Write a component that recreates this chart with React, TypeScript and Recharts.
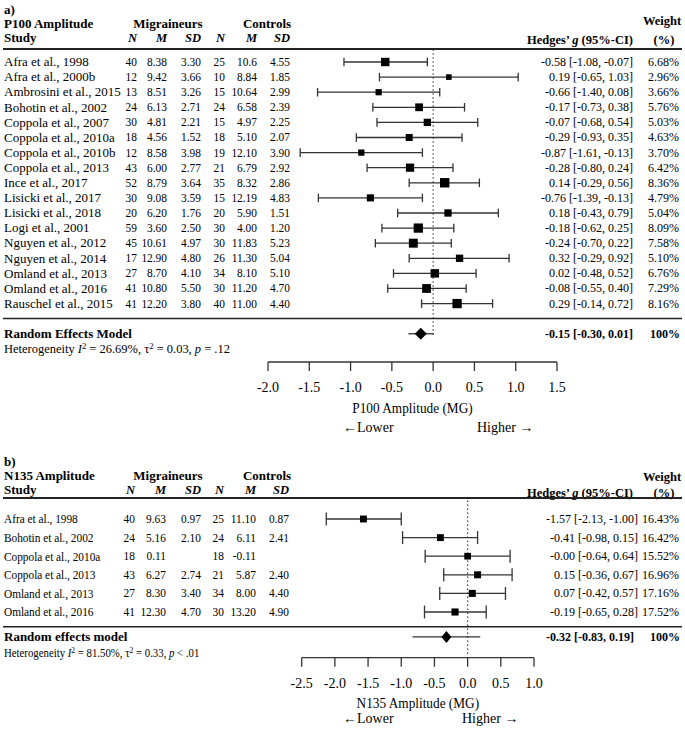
import React from 'react';
import { ComposedChart, Scatter, XAxis, YAxis, ErrorBar, ReferenceLine, Label } from 'recharts';

const SERIF = '"Liberation Serif", "Times New Roman", Times, serif';

// ---- a) P100 amplitude
const studiesA = [
  'Afra et al., 1998', 'Afra et al., 2000b', 'Ambrosini et al., 2015', 'Bohotin et al., 2002',
  'Coppola et al., 2007', 'Coppola et al., 2010a', 'Coppola et al., 2010b', 'Coppola et al., 2013',
  'Ince et al., 2017', 'Lisicki et al., 2017', 'Lisicki et al., 2018', 'Logi et al., 2001',
  'Nguyen et al., 2012', 'Nguyen et al., 2014', 'Omland et al., 2013', 'Omland et al., 2016',
  'Rauschel et al., 2015',
];
const migNA = ['40', '12', '13', '24', '30', '18', '12', '43', '52', '30', '20', '59', '45', '17', '27', '41', '41'];
const migMA = ['8.38', '9.42', '8.51', '6.13', '4.81', '4.56', '8.58', '6.00', '8.79', '9.08', '6.20', '3.60', '10.61', '12.90', '8.70', '10.80', '12.20'];
const migSDA = ['3.30', '3.66', '3.26', '2.71', '2.21', '1.52', '3.98', '2.77', '3.64', '3.59', '1.76', '2.50', '4.97', '4.80', '4.10', '5.50', '3.80'];
const conNA = ['25', '10', '15', '24', '15', '18', '19', '21', '35', '15', '20', '30', '30', '26', '34', '30', '40'];
const conMA = ['10.6', '8.84', '10.64', '6.58', '4.97', '5.10', '12.10', '6.79', '8.32', '12.19', '5.90', '4.00', '11.83', '11.30', '8.10', '11.20', '11.00'];
const conSDA = ['4.55', '1.85', '2.99', '2.39', '2.25', '2.07', '3.90', '2.92', '2.86', '4.83', '1.51', '1.20', '5.23', '5.04', '5.10', '4.70', '4.40'];
const gA = [-0.58, 0.19, -0.66, -0.17, -0.07, -0.29, -0.87, -0.28, 0.14, -0.76, 0.18, -0.18, -0.24, 0.32, 0.02, -0.08, 0.29];
const loA = [-1.08, -0.65, -1.40, -0.73, -0.68, -0.93, -1.61, -0.80, -0.29, -1.39, -0.43, -0.62, -0.70, -0.29, -0.48, -0.55, -0.14];
const hiA = [-0.07, 1.03, 0.08, 0.38, 0.54, 0.35, -0.13, 0.24, 0.56, -0.13, 0.79, 0.25, 0.22, 0.92, 0.52, 0.40, 0.72];
const weightA = [6.68, 2.96, 3.66, 5.76, 5.03, 4.63, 3.70, 6.42, 8.36, 4.79, 5.04, 8.09, 7.58, 5.10, 6.76, 7.29, 8.16];
const pooledA = [-0.15, -0.30, 0.01];
const hetA = ['26.69%', '0.03', '= .12'];
const xTicksA = [-2, -1.5, -1, -0.5, 0, 0.5, 1, 1.5];

// ---- b) N135 amplitude
const studiesB = [
  'Afra et al., 1998', 'Bohotin et al., 2002', 'Coppola et al., 2010a',
  'Coppola et al., 2013', 'Omland et al., 2013', 'Omland et al., 2016',
];
const migNB = ['40', '24', '18', '43', '27', '41'];
const migMB = ['9.63', '5.16', '0.11', '6.27', '8.30', '12.30'];
const migSDB = ['0.97', '2.10', '', '2.74', '3.40', '4.70'];
const conNB = ['25', '24', '18', '21', '34', '30'];
const conMB = ['11.10', '6.11', '-0.11', '5.87', '8.00', '13.20'];
const conSDB = ['0.87', '2.41', '', '2.40', '4.40', '4.90'];
const gB = [-1.57, -0.41, -0, 0.15, 0.07, -0.19];
const loB = [-2.13, -0.98, -0.64, -0.36, -0.42, -0.65];
const hiB = [-1.00, 0.15, 0.64, 0.67, 0.57, 0.28];
const weightB = [16.43, 16.42, 15.52, 16.96, 17.16, 17.52];
const pooledB = [-0.32, -0.83, 0.19];
const hetB = ['81.50%', '0.33', '< .01'];
const xTicksB = [-2.5, -2, -1.5, -1, -0.5, 0, 0.5, 1];

const fmt = (v: number) => (v < 0 || Object.is(v, -0) ? '-' : '') + Math.abs(v).toFixed(2);
const ci = (g: number, lo: number, hi: number) => `${fmt(g)} [${fmt(lo)}, ${fmt(hi)}]`;

function T({ x, y, anchor = 'start', bold = false, italic = false, size = 13, sx = 1, children }: any) {
  return (
    <text
      transform={`translate(${x},${y}) scale(${sx},1)`}
      textAnchor={anchor}
      dy="0.33em"
      fontFamily={SERIF}
      fontSize={size}
      fontWeight={bold ? 'bold' : 'normal'}
      fontStyle={italic ? 'italic' : 'normal'}
      fill="#000"
    >
      {children}
    </text>
  );
}

const panelA = {
  tag: 'a)', name: 'P100 Amplitude', pooledLabel: 'Random Effects Model', axisName: 'P100 Amplitude (MG)',
  studies: studiesA, cols: [migNA, migMA, migSDA, conNA, conMA, conSDA],
  g: gA, lo: loA, hi: hiA, w: weightA, pooled: pooledA, het: hetA, xTicks: xTicksA,
  // layout
  height: 440, top: 46.9, left: 268, right: 128, axisY: 362,
  xDomain: [-2, 1.5], yDomain: [-1, 19.87], sumRow: 18, hetRow: 19, dot: [-0.85, 18.2],
  colX: [137, 167, 201, 225, 257, 290], ciX: 633, sumCiX: 633, nameSx: 1, hetSx: 0.96,
  cap: 4.3, boxK: 3.25, dHalfW: 6, dHalfH: 6,
  tagY: 10, titleY: 24, studyY: 38, weightY: 21, hedgesY: 40, headLine: 49, sepLine: 318.5,
  axisTitleDy: 46, arrowsDy: 65, lowerX: 343, higherX: 477,
};

const panelB = {
  tag: 'b)', name: 'N135 Amplitude', pooledLabel: 'Random effects model', axisName: 'N135 Amplitude (MG)',
  studies: studiesB, cols: [migNB, migMB, migSDB, conNB, conMB, conSDB],
  g: gB, lo: loB, hi: hiB, w: weightB, pooled: pooledB, het: hetB, xTicks: xTicksB,
  height: 291, top: 60.4, left: 301.7, right: 151, axisY: 217.7,
  xDomain: [-2.5, 1], yDomain: [-1, 7.457], sumRow: 6.34, hetRow: 7.2, dot: [-1, 7.3],
  colX: [135, 166, 201, 224, 256, 289], ciX: 638, sumCiX: 634, nameSx: 0.87, hetSx: 0.83,
  cap: 6.5, boxK: 1.7, dHalfW: 5, dHalfH: 6,
  tagY: 21.5, titleY: 35.5, studyY: 49.5, weightY: 37, hedgesY: 53, headLine: 58, sepLine: 186.7,
  axisTitleDy: 46, arrowsDy: 61, lowerX: 343, higherX: 462,
};

function Forest({ p }: { p: any }) {
  const rows = p.studies.map((s: string, i: number) => ({
    row: i, g: p.g[i], err: [p.g[i] - p.lo[i], p.hi[i] - p.g[i]], w: p.w[i],
  }));
  const [pg, plo, phi] = p.pooled;
  const pooled = [{ row: p.sumRow, g: pg, err: [pg - plo, phi - pg] }];
  const ticks = [...rows.map((r: any) => r.row), p.sumRow, p.hetRow];

  const renderTick = (props: any) => {
    const { y, payload } = props;
    const v = payload.value;
    if (Number.isInteger(v) && v < p.studies.length) {
      return (
        <g>
          <T x={4} y={y} sx={p.nameSx}>{p.studies[v]}</T>
          {p.cols.map((col: string[], c: number) => (
            <T key={c} x={p.colX[c]} y={y} anchor="end" size={12} sx={0.95}>{col[v]}</T>
          ))}
          <T x={p.ciX} y={y} anchor="end" size={12}>{ci(p.g[v], p.lo[v], p.hi[v])}</T>
          <T x={679} y={y} anchor="end" size={12}>{p.w[v].toFixed(2)}%</T>
        </g>
      );
    }
    if (v === p.sumRow) {
      return (
        <g>
          <T x={4} y={y} bold>{p.pooledLabel}</T>
          <T x={p.sumCiX} y={y} anchor="end" bold size={12}>{ci(pg, plo, phi)}</T>
          <T x={680} y={y} anchor="end" bold size={12}>100%</T>
        </g>
      );
    }
    if (v === p.hetRow) {
      return (
        <T x={4} y={y} sx={p.hetSx}>
          Heterogeneity <tspan fontStyle="italic">I</tspan>
          <tspan dy={-4} fontSize={9}>2</tspan>
          <tspan dy={4}>{` = ${p.het[0]}, τ`}</tspan>
          <tspan dy={-4} fontSize={9}>2</tspan>
          <tspan dy={4}>{` = ${p.het[1]}, `}</tspan>
          <tspan fontStyle="italic">p</tspan>
          <tspan>{` ${p.het[2]}`}</tspan>
        </T>
      );
    }
    return <g />;
  };

  const axisFoot = (lp: any) => {
    const vb = lp.viewBox || { x: p.left, y: p.axisY, width: 685 - p.left - p.right };
    const cx = vb.x + vb.width / 2;
    return (
      <g>
        <T x={cx} y={vb.y + p.axisTitleDy} anchor="middle" size={14} sx={0.95}>{p.axisName}</T>
        <T x={p.lowerX} y={vb.y + p.arrowsDy} size={14}>←Lower</T>
        <T x={p.higherX} y={vb.y + p.arrowsDy} size={14}>Higher →</T>
      </g>
    );
  };

  const square = (props: any) => {
    const { cx, cy, payload } = props;
    const s = p.boxK * Math.sqrt(payload.w);
    return <rect x={cx - s / 2} y={cy - s / 2} width={s} height={s} fill="#000" />;
  };
  const diamond = (props: any) => {
    const { cx, cy } = props;
    const pts = `${cx - p.dHalfW},${cy} ${cx},${cy - p.dHalfH} ${cx + p.dHalfW},${cy} ${cx},${cy + p.dHalfH}`;
    return <polygon points={pts} fill="#000" />;
  };

  const colHead = ['N', 'M', 'SD', 'N', 'M', 'SD'];

  return (
    <div style={{ position: 'relative', width: 685, height: p.height }}>
      <ComposedChart width={685} height={p.height} margin={{ top: p.top, right: p.right, bottom: 0, left: 0 }}>
        <XAxis
          type="number"
          dataKey="g"
          domain={p.xDomain}
          ticks={p.xTicks}
          interval={0}
          allowDataOverflow
          tickFormatter={(v: number) => v.toFixed(1)}
          height={p.height - p.axisY}
          tickSize={9}
          tickMargin={11}
          stroke="#333"
          strokeWidth={1.3}
          tick={{ fill: '#000', fontSize: 14, fontFamily: SERIF }}
          label={<Label content={axisFoot} />}
        />
        <YAxis
          type="number"
          dataKey="row"
          domain={p.yDomain}
          reversed
          allowDataOverflow
          ticks={ticks}
          interval={0}
          width={p.left}
          axisLine={false}
          tickLine={false}
          tick={renderTick}
        />
        <ReferenceLine
          segment={[{ x: 0, y: p.dot[0] }, { x: 0, y: p.dot[1] }]}
          stroke="#444"
          strokeWidth={1.2}
          strokeDasharray="1.5 2.5"
        />
        <Scatter data={rows} shape={square} isAnimationActive={false}>
          <ErrorBar dataKey="err" direction="x" width={p.cap} stroke="#333" strokeWidth={1.3} isAnimationActive={false} />
        </Scatter>
        <Scatter data={pooled} shape={diamond} isAnimationActive={false}>
          <ErrorBar dataKey="err" direction="x" width={0} stroke="#333" strokeWidth={1.3} isAnimationActive={false} />
        </Scatter>
      </ComposedChart>
      <svg width={685} height={p.height} style={{ position: 'absolute', left: 0, top: 0, pointerEvents: 'none' }}>
        <T x={4} y={p.tagY} bold>{p.tag}</T>
        <T x={4} y={p.titleY} bold>{p.name}</T>
        <T x={4} y={p.studyY} bold>Study</T>
        <T x={168} y={p.titleY} anchor="middle" bold>Migraineurs</T>
        <T x={267} y={p.titleY} anchor="middle" bold>Controls</T>
        {colHead.map((h, c) => (
          <T key={c} x={p.colX[c]} y={p.studyY} anchor="end" bold italic size={12.5}>{h}</T>
        ))}
        <T x={633} y={p.hedgesY} anchor="end" bold size={12.5}>
          Hedges’ <tspan fontStyle="italic">g</tspan> (95%-CI)
        </T>
        <T x={662} y={p.weightY} anchor="middle" bold size={12.5}>Weight</T>
        <T x={664} y={p.hedgesY} anchor="middle" bold size={12.5}>(%)</T>
        <line x1={3} x2={682} y1={p.headLine} y2={p.headLine} stroke="#222" strokeWidth={1.8} />
        <line x1={3} x2={682} y1={p.sepLine} y2={p.sepLine} stroke="#222" strokeWidth={1.5} />
      </svg>
    </div>
  );
}

export default function App() {
  return (
    <div style={{ position: 'absolute', left: 0, top: 0, width: 685, height: 731, background: '#fff', fontFamily: SERIF }}>
      <Forest p={panelA} />
      <Forest p={panelB} />
    </div>
  );
}
